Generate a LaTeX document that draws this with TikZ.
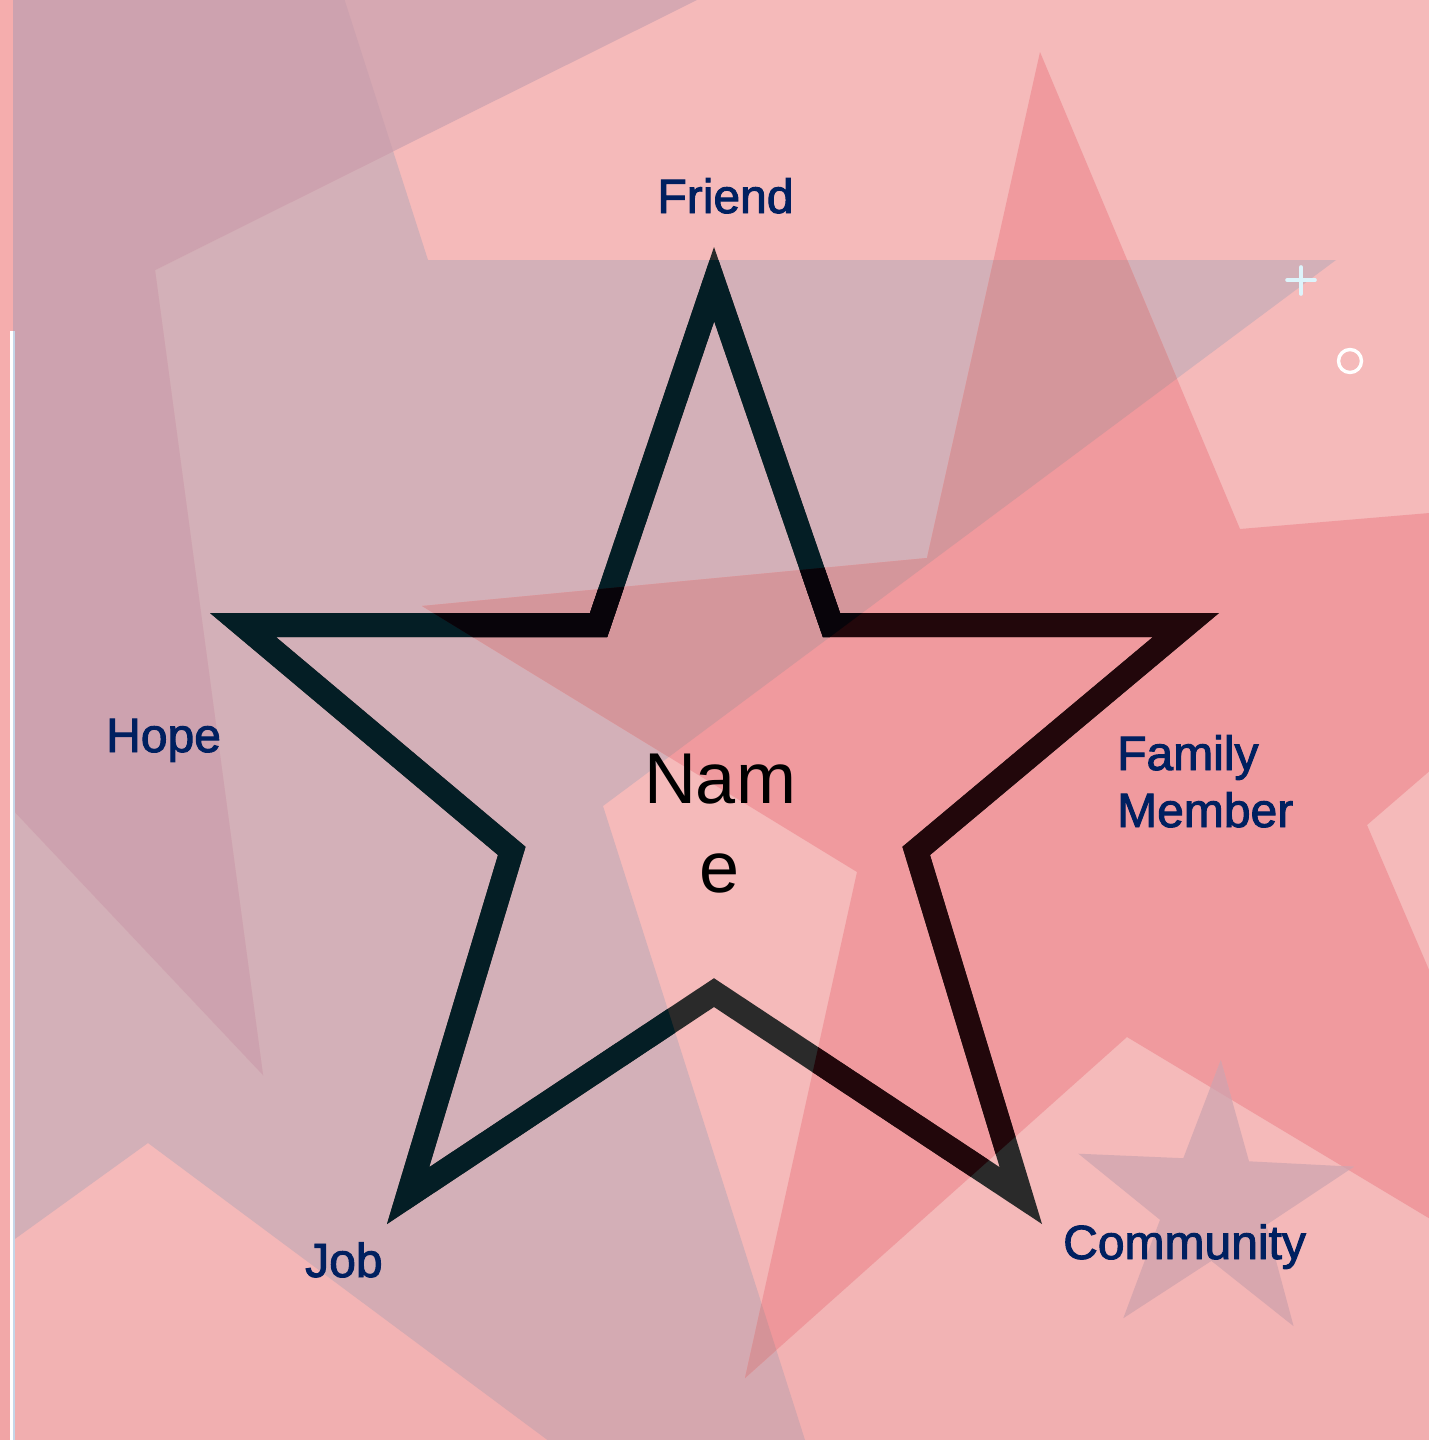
\documentclass[tikz,border=0pt]{standalone}
\usepackage{fontspec}
\setmainfont{Liberation Sans}
\newfontface\lblface[FakeBold=2]{Liberation Sans}
\definecolor{bgpink}{HTML}{F5BABA}
\definecolor{strip}{HTML}{F5ADAD}
\definecolor{Lcol}{HTML}{D3B0B8}
\definecolor{Dcol}{HTML}{D6A8B2}
\definecolor{DLcol}{HTML}{CDA2AF}
\definecolor{Scol}{HTML}{F09A9E}
\definecolor{SLcol}{HTML}{D4969B}
\definecolor{smallcol}{HTML}{D8AAB2}
\definecolor{smallS}{HTML}{D8A0AA}
\definecolor{navy}{HTML}{002060}
\definecolor{outBg}{HTML}{2A2A2A}
\definecolor{outL}{HTML}{041E25}
\definecolor{outS}{HTML}{22070B}
\definecolor{outSL}{HTML}{08040A}
\definecolor{lineblue}{HTML}{C6D6E8}
\definecolor{plusblue}{HTML}{DDF4FB}
\definecolor{ovc}{HTML}{E18287}
\def\Lpath{(343,-5) -- (428,260) -- (1336,260) -- (603,806) -- (885,1691) -- (148,1143) -- (-60,1293) -- (-60,-5) -- cycle}
\def\Dpath{(-5,-5) -- (707,-5) -- (155,270) -- (263,1075) -- (-5,791) -- cycle}
\def\Spath{(1040,52) -- (1240,529) -- (1761,485) -- (1367,825) -- (1572,1304) -- (1127,1037) -- (745,1378) -- (857,872) -- (422,606) -- (927,558) -- cycle}
\def\SmallPath{(1220.8,1060.2) -- (1183.3,1158.2) -- (1078.4,1153.7) -- (1160.0,1219.8) -- (1123.3,1318.2) -- (1211.4,1260.9) -- (1293.6,1326.2) -- (1266.4,1224.8) -- (1353.9,1166.7) -- (1249.0,1161.3) -- cycle}
\def\Mpath{(714,247) -- (840,613) -- (1219,613) -- (930,855) -- (1042,1224) -- (714,1007) -- (387,1224) -- (498,855) -- (210,613) -- (590,613) -- cycle}
\begin{document}
\begin{tikzpicture}[x=1pt,y=-1pt,
  lbl/.style={text=navy, font=\lblface\fontsize{48pt}{58pt}\selectfont, inner sep=0pt},
  namelbl/.style={text=black, font=\fontsize{72pt}{89pt}\selectfont, inner sep=0pt},
  outline/.style={line width=48pt, line join=miter}]
\useasboundingbox (0,0) rectangle (1429,1440);
% background
\fill[strip] (0,0) rectangle (1429,1440);
\fill[bgpink] (13,0) rectangle (1429,1440);
\begin{scope}
  \clip (13,0) rectangle (1429,1440);
  \fill[Lcol] \Lpath;
  \fill[Dcol] \Dpath;
  \begin{scope}\clip \Dpath; \fill[DLcol] \Lpath;\end{scope}
  \fill[Scol] \Spath;
  \begin{scope}\clip \Spath; \fill[SLcol] \Lpath;\end{scope}
  \fill[smallcol] \SmallPath;
  \begin{scope}\clip \Spath; \fill[smallS] \SmallPath;\end{scope}
\end{scope}
% soft darkening toward the bottom
\foreach \i in {0,...,23} {
  \pgfmathsetmacro\op{0.004+\i*0.0085}
  \fill[ovc, fill opacity=\op] (0,1200+\i*10) rectangle (1429,1210+\i*10);
}
% main star outline, coloured by what lies beneath
\begin{scope}
  \clip \Mpath;
  \draw[outline, outBg] \Mpath;
  \begin{scope}\clip \Lpath; \draw[outline, outL] \Mpath;\end{scope}
  \begin{scope}\clip \Spath; \draw[outline, outS] \Mpath;
    \clip \Lpath; \draw[outline, outSL] \Mpath;\end{scope}
\end{scope}
% left white rule
\fill[white] (10,331) rectangle (13.3,1440);
\fill[lineblue] (13.3,331) rectangle (15.3,1440);
% plus and ring
\draw[plusblue, line width=3.6pt, line cap=round] (1287,280) -- (1315,280) (1301,267) -- (1301,294);
\draw[white, line width=3.4pt] (1350,361) circle (11.5);
% labels
\node[lbl, anchor=base] (friend) at (725.5,213) {Friend};
\node[lbl, anchor=base west] (hope) at (106,752) {Hope};
\node[lbl, anchor=base west] (family) at (1117,770) {Family};
\node[lbl, anchor=base west] (member) at (1117,827) {Member};
\node[lbl, anchor=base west] (job) at (305,1277) {Job};
\node[lbl, anchor=base west] (community) at (1063,1259) {Community};
\node[namelbl, anchor=base] (name1) at (720,803) {Nam};
\node[namelbl, anchor=base] (name2) at (720,892) {e};
\end{tikzpicture}
\end{document}
